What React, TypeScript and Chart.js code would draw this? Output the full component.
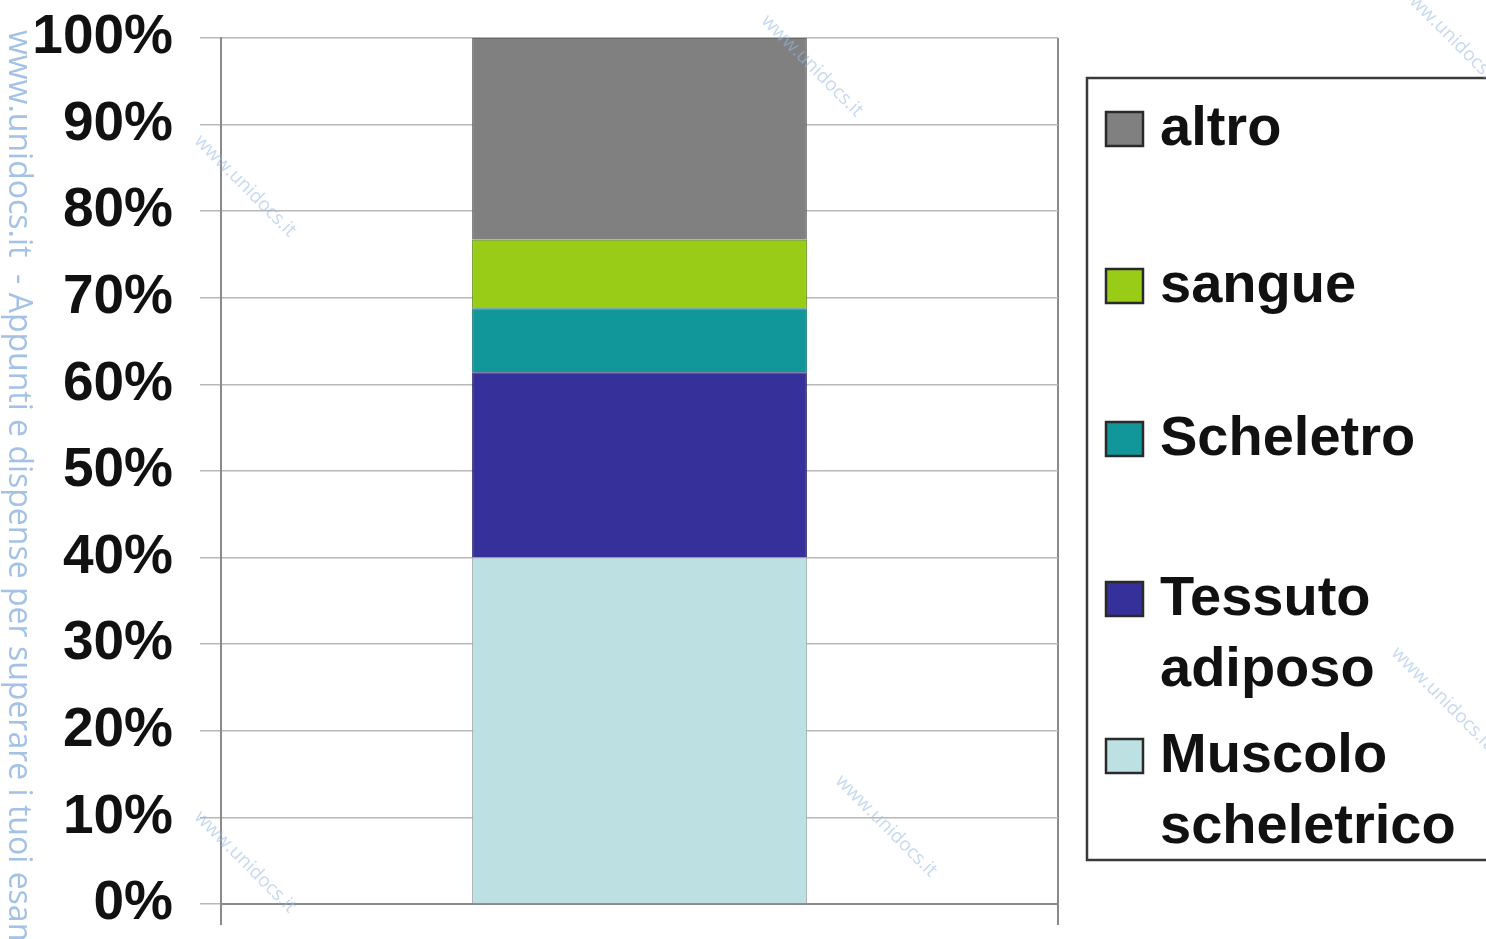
import React, { useEffect, useRef } from "react";
import { Chart, registerables } from "chart.js";

Chart.register(...registerables);

// Single stacked column, shares in percent (bottom to top)
const categories = [""];
const muscoloScheletrico = [40];
const tessutoAdiposo = [21.4];
const scheletro = [7.4];
const sangue = [7.9];
const altro = [23.3];

const seriesNames = ["Muscolo scheletrico", "Tessuto adiposo", "Scheletro", "sangue", "altro"];
const seriesColors = ["#bde0e3", "#35309a", "#11979a", "#98cc17", "#808080"];
const seriesBorders = ["#9aa7a8", "#24206e", "#0c6f73", "#5d8a10", "#6a6a6a"];

// Legend entries, top to bottom, with their line breaks
const legendOrder = ["altro", "sangue", "Scheletro", "Tessuto adiposo", "Muscolo scheletrico"];
const legendLines = [["altro"], ["sangue"], ["Scheletro"], ["Tessuto", "adiposo"], ["Muscolo", "scheletrico"]];

const yTicks = [0, 10, 20, 30, 40, 50, 60, 70, 80, 90, 100];

const FONT = "'Liberation Sans', Arial, Helvetica, sans-serif";
const WATERMARK = "www.unidocs.it  - Appunti e dispense per superare i tuoi esami";

// Custom legend panel on the right, plus the site stamp along the left edge
const sidePanel = {
  id: "sidePanel",
  afterDraw(chart: Chart) {
    const ctx = chart.ctx;
    const boxL = 1087, boxT = 78, boxR = 1492, boxB = 860;
    ctx.save();
    ctx.fillStyle = "#ffffff";
    ctx.fillRect(boxL, boxT, boxR - boxL, boxB - boxT);
    ctx.strokeStyle = "#3a3a3a";
    ctx.lineWidth = 2.5;
    ctx.strokeRect(boxL, boxT, boxR - boxL, boxB - boxT);

    // first-line centre of each entry and spacing of wrapped lines
    const lineStarts = [130, 287, 440, 600, 757];
    const wrapStep = 71;
    ctx.font = `bold 56px ${FONT}`;
    ctx.textBaseline = "middle";
    ctx.textAlign = "left";
    legendOrder.forEach((name, i) => {
      const ds = chart.data.datasets.find((d) => d.label === name);
      const y0 = lineStarts[i];
      ctx.fillStyle = (ds?.backgroundColor as string) || "#000";
      ctx.fillRect(1106, y0 - 18, 37, 34);
      ctx.strokeStyle = "#2a2a2a";
      ctx.lineWidth = 2.5;
      ctx.strokeRect(1106, y0 - 18, 37, 34);
      ctx.fillStyle = "#111111";
      legendLines[i].forEach((line, k) => {
        ctx.fillText(line, 1160, y0 + k * wrapStep);
      });
    });

    // vertical stamp on the left margin
    ctx.save();
    ctx.translate(6, 30);
    ctx.rotate(Math.PI / 2);
    ctx.font = `400 32px 'Open Sans', 'Noto Sans', sans-serif`;
    ctx.fillStyle = "#a3c2e5";
    ctx.textBaseline = "middle";
    ctx.fillText(WATERMARK, 0, -12);
    ctx.restore();

    // faint diagonal stamps
    const stamps: [number, number][] = [[812, 66], [245, 186], [886, 826], [245, 862], [1450, 36], [1442, 698]];
    ctx.font = `19px 'Open Sans', 'Noto Sans', sans-serif`;
    ctx.fillStyle = "rgba(150,185,225,0.55)";
    ctx.textAlign = "center";
    stamps.forEach(([x, y]) => {
      ctx.save();
      ctx.translate(x, y);
      ctx.rotate(Math.PI / 4);
      ctx.fillText("www.unidocs.it", 0, 0);
      ctx.restore();
    });
    ctx.restore();
  },
};

export default function App() {
  const canvasRef = useRef<HTMLCanvasElement | null>(null);

  useEffect(() => {
    document.body.style.margin = "0";
    const canvas = canvasRef.current;
    if (!canvas) return;
    const values = [muscoloScheletrico, tessutoAdiposo, scheletro, sangue, altro];
    const chart = new Chart(canvas, {
      type: "bar",
      data: {
        labels: categories,
        datasets: seriesNames.map((name, i) => ({
          label: name,
          data: values[i],
          backgroundColor: seriesColors[i],
          borderColor: seriesBorders[i],
          borderWidth: 1,
          barPercentage: 0.4,
          categoryPercentage: 1,
        })),
      },
      options: {
        responsive: false,
        animation: false,
        devicePixelRatio: 1,
        layout: { padding: { top: 38, right: 428, left: 0, bottom: 0 } },
        plugins: {
          legend: { display: false },
          tooltip: { enabled: false },
        },
        scales: {
          x: {
            stacked: true,
            ticks: { display: false },
            grid: { color: "#8a8a8a", lineWidth: 2, tickLength: 21, drawTicks: true },
            border: { display: true, color: "#8a8a8a", width: 2 },
            afterFit: (s: any) => {
              s.height = 35;
              s.paddingLeft = 0;
              s.paddingRight = 0;
            },
          },
          y: {
            stacked: true,
            min: 0,
            max: 100,
            afterBuildTicks: (s: any) => {
              s.ticks = yTicks.map((v) => ({ value: v }));
            },
            ticks: {
              callback: (v: any) => `${v}%`,
              color: "#111111",
              font: { family: FONT, size: 55, weight: "bold" },
              padding: 27,
            },
            grid: { color: "#b8b8b8", lineWidth: 1.5, tickLength: 21 },
            border: { display: true, color: "#8a8a8a", width: 2 },
            afterFit: (s: any) => {
              s.width = 221;
              s.paddingTop = 0;
              s.paddingBottom = 0;
            },
          },
        },
      },
      plugins: [sidePanel],
    });
    return () => chart.destroy();
  }, []);

  return (
    <div style={{ width: 1486, height: 939, background: "#ffffff" }}>
      <canvas ref={canvasRef} width={1486} height={939} style={{ display: "block" }} />
    </div>
  );
}
